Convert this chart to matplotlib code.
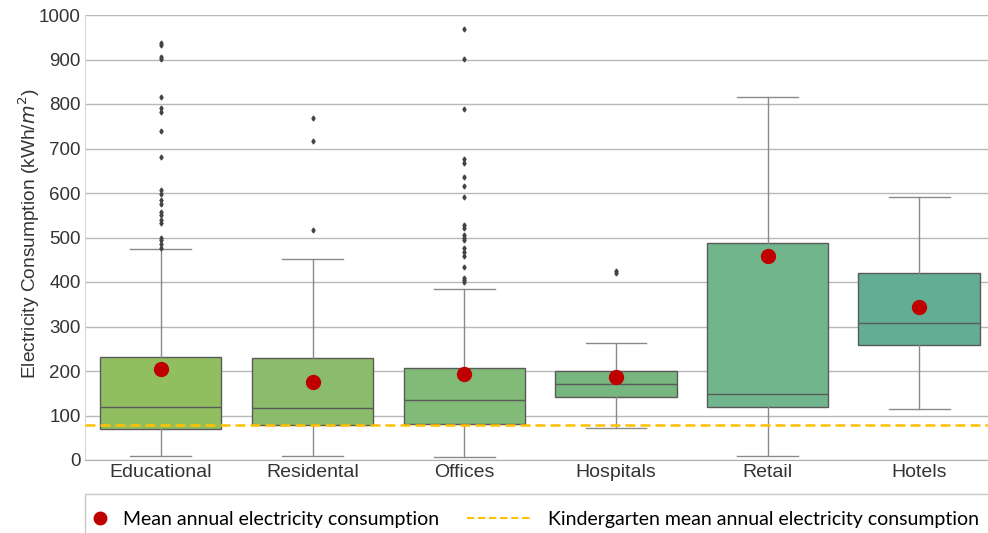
import matplotlib
matplotlib.use("Agg")
import matplotlib.pyplot as plt
from matplotlib.lines import Line2D
from matplotlib.patches import Rectangle

categories = ["Educational", "Residental", "Offices", "Hospitals", "Retail", "Hotels"]
q1 = [69, 79, 81, 142, 118, 258]
med = [120, 116, 135, 170, 148, 307]
q3 = [231, 230, 207, 200, 487, 420]
whislo = [9, 10, 6, 73, 10, 114]
whishi = [475, 452, 384, 264, 815, 592]
means = [204, 175, 193, 186, 458, 343]
fliers = [
    [938, 933, 906, 901, 816, 792, 783, 739, 682, 607, 598, 584, 575, 558, 551, 539, 532, 500, 494, 485, 477],
    [768, 716, 517],
    [969, 902, 788, 676, 667, 637, 616, 590, 528, 522, 506, 500, 494, 476, 467, 458, 434, 410, 404, 399],
    [424, 420],
    [],
    [],
]
box_colors = ["#91bf5f", "#8bbc6b", "#82bb78", "#77b67f", "#70b58b", "#62ad94"]
kindergarten_mean = 78
yticks = [0, 100, 200, 300, 400, 500, 600, 700, 800, 900, 1000]
legend_labels = ["Mean annual electricity consumption",
                 "Kindergarten mean annual electricity consumption"]

W, H = 988, 533
fig = plt.figure(figsize=(W / 100, H / 100), dpi=100)
ax = fig.add_axes([85 / W, 1 - 460 / H, 910 / W, 445 / H])

stats = []
for i, c in enumerate(categories):
    stats.append(dict(label=c, q1=q1[i], med=med[i], q3=q3[i],
                      whislo=whislo[i], whishi=whishi[i], fliers=fliers[i]))

positions = list(range(len(categories)))
bp = ax.bxp(stats, positions=positions, widths=0.8, patch_artist=True,
            showfliers=True, zorder=3,
            boxprops=dict(edgecolor="#5a5a5a", linewidth=1.0),
            medianprops=dict(color="#5a5a5a", linewidth=1.0),
            whiskerprops=dict(color="#8a8a8a", linewidth=1.0),
            capprops=dict(color="#8a8a8a", linewidth=1.0),
            flierprops=dict(marker="d", markersize=2.5, markerfacecolor="#444444",
                            markeredgecolor="#444444", linestyle="none"))
for patch, col in zip(bp["boxes"], box_colors):
    patch.set_facecolor(col)

ax.plot(positions, means, linestyle="none", marker="o", markersize=10,
        color="#c00000", zorder=5)
ax.axhline(kindergarten_mean, color="#ffc000", linestyle=(0, (4, 2)), linewidth=1.8, zorder=4)

ax.set_xlim(-0.5, len(categories) - 0.5)
ax.set_ylim(0, 1000)
ax.set_yticks(yticks)
ax.set_xticks(positions)
ax.set_xticklabels(categories)
ax.yaxis.grid(True, color="#b8b8b8", linewidth=1.0, zorder=0)
ax.set_axisbelow(True)
for s in ["top", "right"]:
    ax.spines[s].set_visible(False)
ax.spines["left"].set_color("#d8d8d8")
ax.spines["bottom"].set_color("#b0b0b0")
ax.tick_params(axis="x", labelsize=14, colors="#333333", length=0, pad=3)
ax.tick_params(axis="y", labelsize=13.5, colors="#333333", length=0, pad=3)
for lab in ax.get_xticklabels() + ax.get_yticklabels():
    lab.set_family("Liberation Sans")
ax.set_ylabel("Electricity Consumption (kWh/$m^2$)", fontsize=13.8, color="#333333",
              family="Liberation Sans")
ax.yaxis.set_label_coords(-(85 - 42) / 910, 0.51)

# legend frame
fig.patches.append(Rectangle((85 / W, -0.05), 0.99, 1 - 494 / H + 0.05,
                             transform=fig.transFigure, facecolor="white",
                             edgecolor="#c8c8c8", linewidth=1.0, zorder=1))
h1 = Line2D([], [], linestyle="none", marker="o", markersize=9, color="#c00000")
h2 = Line2D([], [], color="#ffc000", linestyle=(0, (3.5, 1.8)), linewidth=1.5)
leg1 = fig.legend([h1], [legend_labels[0]], loc="center left",
                  bbox_to_anchor=(90 / W, 1 - 519 / H), frameon=False,
                  prop=dict(family="Lato", size=14), handlelength=1.0,
                  handletextpad=0.7, borderpad=0, borderaxespad=0)
leg2 = fig.legend([h2], [legend_labels[1]], loc="center left",
                  bbox_to_anchor=(467 / W, 1 - 519 / H), frameon=False,
                  prop=dict(family="Lato", size=14), handlelength=3.4,
                  handletextpad=0.75, borderpad=0, borderaxespad=0)
leg1.set_zorder(3)
leg2.set_zorder(3)

fig.savefig("out.png", dpi=100)
